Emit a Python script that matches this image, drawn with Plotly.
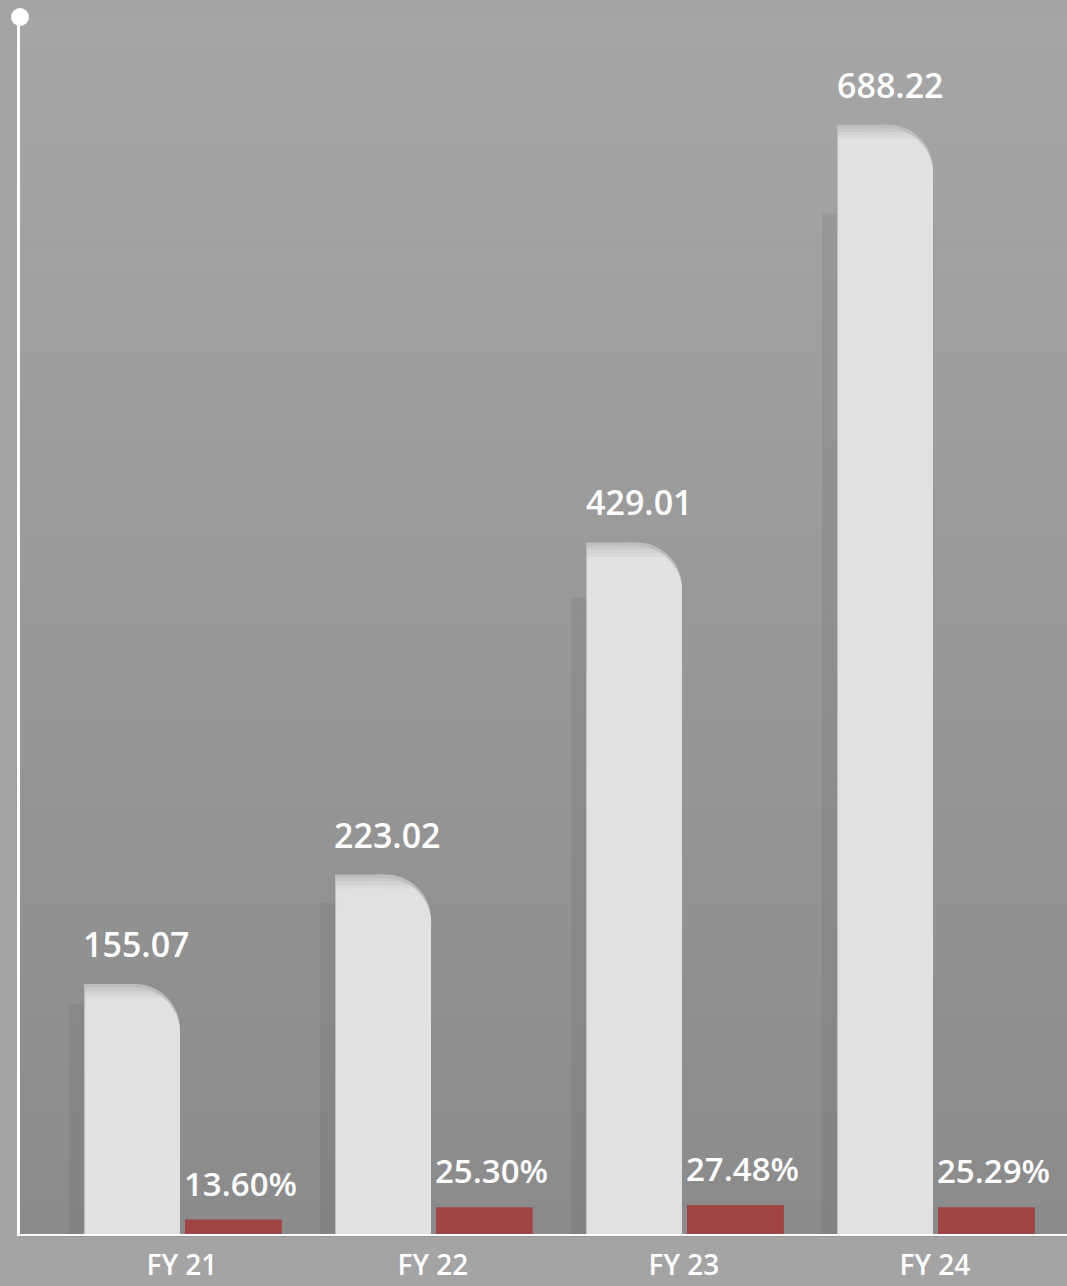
import plotly.graph_objects as go

# Revenue (white bars) and margin % (red bars) per fiscal year
categories = ["FY 21", "FY 22", "FY 23", "FY 24"]
revenue = [155.07, 223.02, 429.01, 688.22]
margin_pct = [13.60, 25.30, 27.48, 25.29]
revenue_labels = ["155.07", "223.02", "429.01", "688.22"]
margin_labels = ["13.60%", "25.30%", "27.48%", "25.29%"]

xpos = list(range(len(categories)))

WHITE_OFF, WHITE_W = -0.39, 0.382
RED_OFF, RED_W = 0.012, 0.386
FONT = "Open Sans"

fig = go.Figure()

# soft paper-cut shadow to the left of each white bar
fig.add_trace(go.Bar(
    x=xpos, y=[v * 0.92 for v in revenue], offset=WHITE_OFF - 0.06, width=0.062,
    marker=dict(color="rgba(60,60,60,0.09)", line_width=0), hoverinfo="skip",
))

# white bars: stacked layers build a soft inner shade under the top edge;
# each layer is a rounded bar plus a square left half so only the
# top-right corner is rounded
layers = [(0.0, "#bebebe"), (2.2, "#c9c9c9"), (4.4, "#d3d3d3"),
          (6.6, "#dadada"), (8.8, "#e1e1e1")]
for drop, col in layers:
    ys = [v - drop for v in revenue]
    inset = 0.0 if drop == 0 else 0.005
    fig.add_trace(go.Bar(
        x=xpos, y=ys, offset=WHITE_OFF + inset, width=WHITE_W - inset,
        marker=dict(color=col, line_width=0, cornerradius=45), hoverinfo="skip",
    ))
    fig.add_trace(go.Bar(
        x=xpos, y=ys, offset=WHITE_OFF + inset, width=WHITE_W / 2,
        marker=dict(color=col, line_width=0), hoverinfo="skip",
    ))

# margin bars on a secondary axis
fig.add_trace(go.Bar(
    x=xpos, y=margin_pct, offset=RED_OFF, width=RED_W, yaxis="y2",
    marker=dict(color="#a04446", line_width=0), hoverinfo="skip",
))

annotations = []
for i, (v, lab) in enumerate(zip(revenue, revenue_labels)):
    annotations.append(dict(
        x=i + WHITE_OFF + WHITE_W / 2 + 0.02, y=v, xref="x", yref="y", text=lab,
        showarrow=False, yanchor="bottom", yshift=15,
        font=dict(family=FONT, size=34, color="white", weight=600),
    ))
for i, (v, lab) in enumerate(zip(margin_pct, margin_labels)):
    annotations.append(dict(
        x=i + RED_OFF + RED_W / 2 + 0.03, y=v, xref="x", yref="y2", text=lab,
        showarrow=False, yanchor="bottom", yshift=12,
        font=dict(family=FONT, size=33, color="white", weight=600),
    ))

# vertical background gradient for the plot area
shapes = []
n = 80
top_c, bot_c = (166, 166, 166), (139, 139, 139)
for k in range(n):
    t = k / (n - 1)
    c = tuple(round(top_c[j] + (bot_c[j] - top_c[j]) * t) for j in range(3))
    shapes.append(dict(
        type="rect", xref="paper", yref="paper", x0=0, x1=1,
        y1=1 - k / n, y0=1 - (k + 1) / n - 0.002,
        fillcolor=f"rgb{c}", line_width=0, layer="below",
    ))
# dot at the top of the vertical axis
shapes.append(dict(
    type="circle", xref="paper", yref="paper", xsizemode="pixel", ysizemode="pixel",
    xanchor=0, yanchor=1, x0=-9, x1=9, y0=-9, y1=9,
    fillcolor="white", line_width=0, layer="above",
))

fig.update_layout(
    width=1067, height=1286,
    margin=dict(l=20, r=0, t=17, b=52, autoexpand=False),
    paper_bgcolor="#a4a4a4", plot_bgcolor="rgba(0,0,0,0)",
    barmode="overlay", showlegend=False,
    xaxis=dict(
        range=[-0.645, 3.526], tickmode="array", tickvals=xpos, ticktext=categories,
        showgrid=False, zeroline=False, showline=True, linecolor="white", linewidth=2,
        ticks="", ticklabelstandoff=5, automargin=False,
        tickfont=dict(family=FONT, size=28, color="white", weight=600),
    ),
    yaxis=dict(
        range=[0, 755], showgrid=False, zeroline=False, showticklabels=False,
        showline=True, linecolor="white", linewidth=3, automargin=False,
    ),
    yaxis2=dict(
        range=[0, 1151], overlaying="y", showgrid=False, zeroline=False,
        showticklabels=False, showline=False,
    ),
    shapes=shapes, annotations=annotations,
)

fig.write_html("out.html")
